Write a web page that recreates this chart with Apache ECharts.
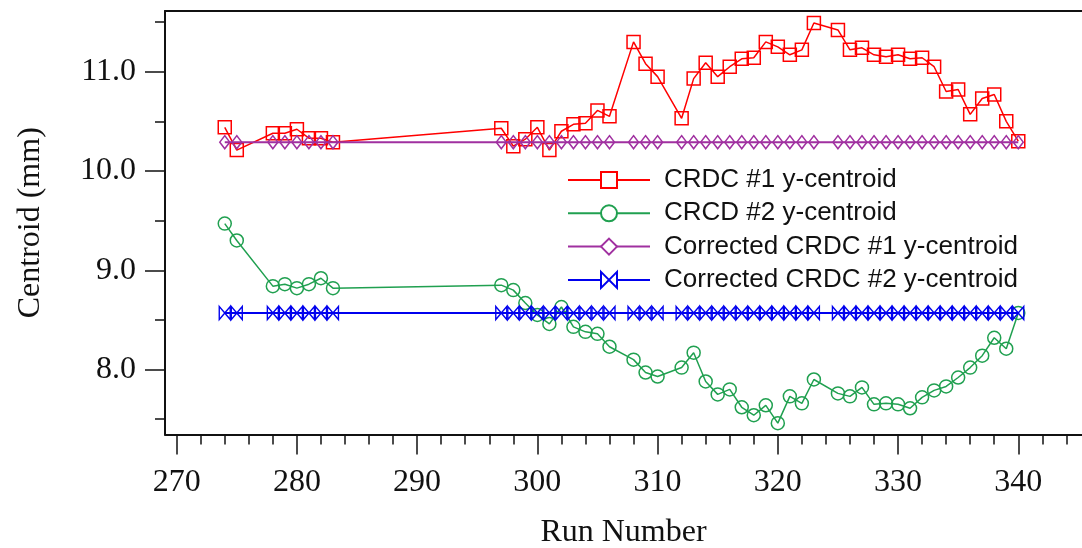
<!DOCTYPE html>
<html><head><meta charset="utf-8">
<script src="https://cdn.jsdelivr.net/npm/echarts@6/dist/echarts.min.js"></script>
<style>html,body{margin:0;padding:0;background:#fff}#c{width:1082px;height:548px}</style>
</head><body><div id="c"></div>
<script>
const runs = [274,275,278,279,280,281,282,283,297,298,299,300,301,302,303,304,305,306,308,309,310,312,313,314,315,316,317,318,319,320,321,322,323,325,326,327,328,329,330,331,332,333,334,335,336,337,338,339,340];
const crdc1 = [10.44,10.21,10.38,10.38,10.42,10.33,10.33,10.29,
  10.43,10.25,10.32,10.44,10.21,10.40,10.47,10.48,10.61,10.55,
  11.30,11.08,10.95,
  10.53,10.93,11.09,10.95,11.05,11.13,11.14,11.30,11.25,11.17,11.22,11.49,
  11.42,11.22,11.24,11.17,11.15,11.17,11.13,11.14,11.05,10.80,10.82,10.57,10.73,10.77,10.50,10.30];
const crcd2 = [9.47,9.30,8.84,8.86,8.82,8.86,8.92,8.82,
  8.85,8.80,8.67,8.55,8.46,8.63,8.43,8.38,8.36,8.23,
  8.10,7.97,7.93,
  8.02,8.17,7.88,7.75,7.80,7.62,7.54,7.64,7.46,7.73,7.66,7.90,
  7.76,7.73,7.82,7.65,7.66,7.65,7.61,7.72,7.79,7.83,7.92,8.02,8.14,8.32,8.21,8.57];
const corr1 = [10.29,10.29,10.29,10.29,10.29,10.29,10.29,10.29,
  10.29,10.29,10.29,10.29,10.29,10.29,10.29,10.29,10.29,10.29,
  10.29,10.29,10.29,
  10.29,10.29,10.29,10.29,10.29,10.29,10.29,10.29,10.29,10.29,10.29,10.29,
  10.29,10.29,10.29,10.29,10.29,10.29,10.29,10.29,10.29,10.29,10.29,10.29,10.29,10.29,10.29,10.29];
const corr2 = [8.57,8.57,8.57,8.57,8.57,8.57,8.57,8.57,
  8.57,8.57,8.57,8.57,8.57,8.57,8.57,8.57,8.57,8.57,
  8.57,8.57,8.57,
  8.57,8.57,8.57,8.57,8.57,8.57,8.57,8.57,8.57,8.57,8.57,8.57,
  8.57,8.57,8.57,8.57,8.57,8.57,8.57,8.57,8.57,8.57,8.57,8.57,8.57,8.57,8.57,8.57];
const seriesNames = ['CRDC #1 y-centroid','CRCD #2 y-centroid','Corrected CRDC #1 y-centroid','Corrected CRDC #2 y-centroid'];
const xMajorTicks = [270,280,290,300,310,320,330,340];
const xMinorTicks = [272,274,276,278,282,284,286,288,292,294,296,298,302,304,306,308,312,314,316,318,322,324,326,328,332,334,336,338,342,344];
const yMajorTicks = [8,9,10,11];
const yMinorTicks = [7.5,8.5,9.5,10.5,11.5];
const xTitle = 'Run Number';
const yTitle = 'Centroid (mm)';

const pair = arr => runs.map((r, i) => [r, arr[i]]);
const AX = '#111';
const serif = 'Liberation Serif';
const xMin = 269.03, xMax = 345.3, yMin = 7.346, yMax = 11.611;

const chart = echarts.init(document.getElementById('c'), null, {renderer: 'canvas'});
const colors = ['#ff0000', '#20a050', '#a030a0', '#0000ee'];
const symbols = ['rect', 'circle', 'diamond', 'path://M0,0L10,6L0,12ZM20,0L10,6L20,12Z'];
const sizes = [13, 13, [10, 13], [11, 13]];
const widths = [1.5, 1.5, 2, 2];
const datas = [crdc1, crcd2, corr1, corr2];

chart.setOption({
  animation: false,
  backgroundColor: '#fff',
  grid: {left: 165, right: 0, top: 11, bottom: 113.5, containLabel: false, outerBoundsMode: 'none'},
  legend: {
    left: 567, top: 167, orient: 'vertical', padding: 0,
    itemWidth: 82, itemHeight: 20, itemGap: 7.3,
    textStyle: {fontFamily: 'Liberation Sans', fontSize: 26, color: '#111', padding: [0, 0, 0, 9]},
    data: seriesNames.map(n => ({name: n, itemStyle: {color: '#fff'}}))
  },
  xAxis: [
    {type: 'value', min: xMin, max: xMax, position: 'bottom',
     name: xTitle, nameLocation: 'middle', nameGap: 82,
     nameTextStyle: {fontFamily: serif, fontSize: 32, color: AX},
     axisLine: {show: true, onZero: false, lineStyle: {color: AX, width: 2}},
     axisTick: {show: true, length: 20, customValues: xMajorTicks, lineStyle: {color: AX, width: 1.5}},
     axisLabel: {show: true, margin: 32, customValues: xMajorTicks, fontFamily: serif, fontSize: 32, color: AX},
     splitLine: {show: false}},
    {type: 'value', min: xMin, max: xMax, position: 'bottom',
     axisLine: {show: false, onZero: false},
     axisTick: {show: true, length: 10, customValues: xMinorTicks, lineStyle: {color: AX, width: 1.5}},
     axisLabel: {show: false}, splitLine: {show: false}},
    {type: 'value', min: xMin, max: xMax, position: 'top',
     axisLine: {show: true, onZero: false, lineStyle: {color: AX, width: 2}},
     axisTick: {show: false}, axisLabel: {show: false}, splitLine: {show: false}}
  ],
  yAxis: [
    {type: 'value', min: yMin, max: yMax, position: 'left',
     name: yTitle, nameLocation: 'middle', nameGap: 118, nameRotate: 90,
     nameTextStyle: {fontFamily: serif, fontSize: 32, color: AX},
     axisLine: {show: true, onZero: false, lineStyle: {color: AX, width: 2}},
     axisTick: {show: true, length: 20, customValues: yMajorTicks, lineStyle: {color: AX, width: 1.5}},
     axisLabel: {show: true, margin: 29, customValues: yMajorTicks, fontFamily: serif, fontSize: 32, color: AX,
       formatter: v => Number(v).toFixed(1)},
     splitLine: {show: false}},
    {type: 'value', min: yMin, max: yMax, position: 'left',
     axisLine: {show: false, onZero: false},
     axisTick: {show: true, length: 10, customValues: yMinorTicks, lineStyle: {color: AX, width: 1.5}},
     axisLabel: {show: false}, splitLine: {show: false}}
  ],
  series: seriesNames.map((n, k) => ({
    name: n, type: 'line', xAxisIndex: 0, yAxisIndex: 0,
    data: pair(datas[k]),
    symbol: symbols[k], symbolSize: sizes[k], showSymbol: true,
    lineStyle: {color: colors[k], width: widths[k]},
    itemStyle: {color: 'rgba(255,255,255,0)', borderColor: colors[k], borderWidth: 1.5},
    emphasis: {disabled: true},
    z: 2 + k
  }))
});
</script></body></html>
